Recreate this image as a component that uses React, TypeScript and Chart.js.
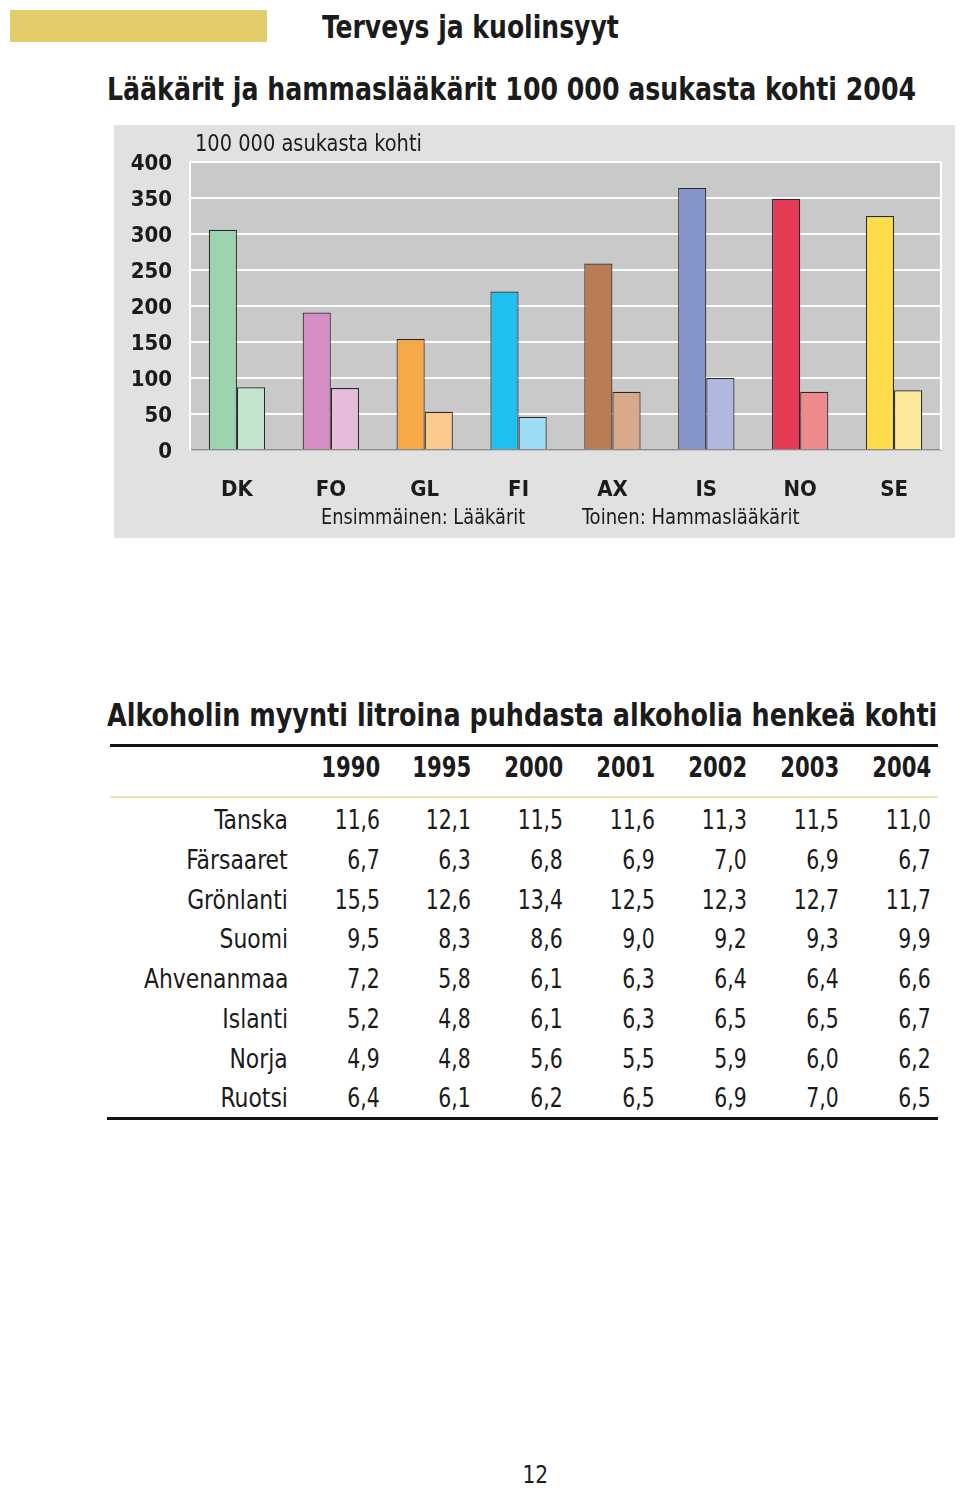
import React, { useEffect, useLayoutEffect, useRef, useState } from "react";
import { Chart, registerables } from "chart.js";

Chart.register(...registerables);

const FONT = '"Liberation Sans Narrow", "DejaVu Sans Condensed", "Arial Narrow", sans-serif';
const INK = "#1b1b1b";

// ---- Chart data ----
const countries = ["DK", "FO", "GL", "FI", "AX", "IS", "NO", "SE"];
const doctors = [306, 191, 154, 220, 259, 364, 349, 325];
const dentists = [87, 86, 53, 46, 81, 100, 81, 83];
const doctorColors = ["#9dd3ae", "#d58ec1", "#f7a847", "#20c0ee", "#b97c55", "#8594c8", "#e43a56", "#fedd4c"];
const dentistColors = ["#c4e5cd", "#e7bcdb", "#fbc98e", "#9edcf5", "#d7a98a", "#b0b8df", "#ee8a8b", "#fee99b"];
const yMin = 0;
const yMax = 400;
const yStep = 50;

// ---- Table data ----
const years = ["1990", "1995", "2000", "2001", "2002", "2003", "2004"];
const regions = ["Tanska", "Färsaaret", "Grönlanti", "Suomi", "Ahvenanmaa", "Islanti", "Norja", "Ruotsi"];
const tanska = ["11,6", "12,1", "11,5", "11,6", "11,3", "11,5", "11,0"];
const farsaaret = ["6,7", "6,3", "6,8", "6,9", "7,0", "6,9", "6,7"];
const gronlanti = ["15,5", "12,6", "13,4", "12,5", "12,3", "12,7", "11,7"];
const suomi = ["9,5", "8,3", "8,6", "9,0", "9,2", "9,3", "9,9"];
const ahvenanmaa = ["7,2", "5,8", "6,1", "6,3", "6,4", "6,4", "6,6"];
const islanti = ["5,2", "4,8", "6,1", "6,3", "6,5", "6,5", "6,7"];
const norja = ["4,9", "4,8", "5,6", "5,5", "5,9", "6,0", "6,2"];
const ruotsi = ["6,4", "6,1", "6,2", "6,5", "6,9", "7,0", "6,5"];
const rows = [tanska, farsaaret, gronlanti, suomi, ahvenanmaa, islanti, norja, ruotsi];

const plotBg = {
  id: "plotBg",
  beforeDraw(chart: any) {
    const { ctx, chartArea } = chart;
    ctx.save();
    ctx.fillStyle = "#c9c9c9";
    ctx.fillRect(chartArea.left, chartArea.top, chartArea.right - chartArea.left, chartArea.bottom - chartArea.top);
    ctx.restore();
  },
  afterDraw(chart: any) {
    const { ctx, chartArea } = chart;
    ctx.save();
    ctx.strokeStyle = "#ffffff";
    ctx.lineWidth = 2;
    ctx.beginPath();
    ctx.moveTo(chartArea.right, chartArea.top);
    ctx.lineTo(chartArea.right, chartArea.bottom);
    ctx.stroke();
    ctx.restore();
  },
};

type TxtProps = {
  x?: number;
  right?: number;
  cx?: number;
  y: number;
  size: number;
  bold?: boolean;
  w?: number;
  sx?: number;
  children: any;
  color?: string;
};

function Txt(props: TxtProps) {
  const { x, right, cx, y, size, bold, w, sx, children, color } = props;
  const spanRef = useRef<HTMLSpanElement>(null);
  const [scale, setScale] = useState(sx || 1);
  useLayoutEffect(() => {
    if (w && spanRef.current) {
      const nat = spanRef.current.offsetWidth;
      if (nat > 0) setScale(w / nat);
    }
  }, [w]);
  const style: any = {
    position: "absolute",
    top: y - size * 0.6,
    fontFamily: FONT,
    fontSize: size,
    fontWeight: bold ? 700 : 400,
    lineHeight: `${size * 1.2}px`,
    color: color || INK,
    whiteSpace: "nowrap",
  };
  let origin = "left center";
  if (x !== undefined) style.left = x;
  if (right !== undefined) {
    style.left = right - 400;
    style.width = 400;
    style.textAlign = "right";
    origin = "right center";
  }
  if (cx !== undefined) {
    style.left = cx - 200;
    style.width = 400;
    style.textAlign = "center";
    origin = "center center";
  }
  return (
    <div style={style}>
      <span ref={spanRef} style={{ display: "inline-block", transform: `scaleX(${scale})`, transformOrigin: origin }}>
        {children}
      </span>
    </div>
  );
}

function BarChart() {
  const ref = useRef<HTMLCanvasElement>(null);
  useEffect(() => {
    if (!ref.current) return;
    const chart = new Chart(ref.current, {
      type: "bar",
      data: {
        labels: countries,
        datasets: [
          {
            label: "Lääkärit",
            data: doctors,
            backgroundColor: doctorColors,
            borderColor: "#2a2a2a",
            borderWidth: 1.2,
            categoryPercentage: 0.6,
            barPercentage: 1,
          },
          {
            label: "Hammaslääkärit",
            data: dentists,
            backgroundColor: dentistColors,
            borderColor: "#2a2a2a",
            borderWidth: 1.2,
            categoryPercentage: 0.6,
            barPercentage: 1,
          },
        ],
      },
      options: {
        animation: false,
        responsive: false,
        devicePixelRatio: 1,
        layout: { padding: { left: 0, right: 14, top: 37, bottom: 0 } },
        plugins: { legend: { display: false }, tooltip: { enabled: false }, title: { display: false } },
        scales: {
          x: {
            grid: { display: false, drawTicks: false },
            border: { display: true, color: "#8a8a8a", width: 1.5 },
            ticks: { font: { family: FONT, size: 22, weight: "bold" }, color: INK, padding: 27 },
            afterFit: (s: any) => {
              s.height = 88;
            },
          },
          y: {
            min: yMin,
            max: yMax,
            grid: { color: "#ffffff", lineWidth: 2, drawTicks: false },
            border: { display: true, color: "#ffffff", width: 2 },
            ticks: {
              stepSize: yStep,
              font: { family: FONT, size: 22, weight: "bold" },
              color: INK,
              padding: 18,
              labelOffset: 2,
            },
            afterFit: (s: any) => {
              s.width = 76;
            },
          },
        },
      },
      plugins: [plotBg],
    });
    return () => chart.destroy();
  }, []);
  return (
    <canvas
      ref={ref}
      width={841}
      height={413}
      style={{ position: "absolute", left: 114, top: 125, width: 841, height: 413, background: "#e1e1e1" }}
    />
  );
}

const valueRights = [380, 471, 563, 655, 747, 839, 931];
const rowYs = [820, 860, 900, 939, 979, 1019, 1059, 1098];

export default function App() {
  return (
    <div style={{ position: "absolute", left: 0, top: 0, width: 960, height: 1490, background: "#fff", overflow: "hidden" }}>
      <div style={{ position: "absolute", left: 10, top: 10, width: 257, height: 32, background: "#e3cd6b" }} />
      <Txt x={322} y={27} size={32} bold w={297}>Terveys ja kuolinsyyt</Txt>
      <Txt x={107} y={89} size={32} bold w={809}>Lääkärit ja hammaslääkärit 100 000 asukasta kohti 2004</Txt>

      <BarChart />
      <Txt x={195} y={144} size={23} w={227}>100 000 asukasta kohti</Txt>
      <Txt x={321} y={517} size={22} w={204}>Ensimmäinen: Lääkärit</Txt>
      <Txt x={582} y={517} size={22} w={218}>Toinen: Hammaslääkärit</Txt>

      <Txt x={107} y={715} size={32} bold w={830}>Alkoholin myynti litroina puhdasta alkoholia henkeä kohti</Txt>
      <div style={{ position: "absolute", left: 110, top: 744, width: 828, height: 3, background: "#141414" }} />
      {years.map((yr, i) => (
        <Txt key={yr} right={valueRights[i]} y={768} size={28} bold sx={0.84}>{yr}</Txt>
      ))}
      <div style={{ position: "absolute", left: 110, top: 796, width: 828, height: 2, background: "#efe2a6" }} />
      {regions.map((r, ri) => (
        <React.Fragment key={r}>
          <Txt right={288} y={rowYs[ri]} size={27} sx={0.9}>{r}</Txt>
          {rows[ri].map((v, ci) => (
            <Txt key={ci} right={valueRights[ci]} y={rowYs[ri]} size={27} sx={0.84}>{v}</Txt>
          ))}
        </React.Fragment>
      ))}
      <div style={{ position: "absolute", left: 107, top: 1117, width: 831, height: 3, background: "#141414" }} />
      <Txt cx={535} y={1475} size={25} sx={0.9}>12</Txt>
    </div>
  );
}
